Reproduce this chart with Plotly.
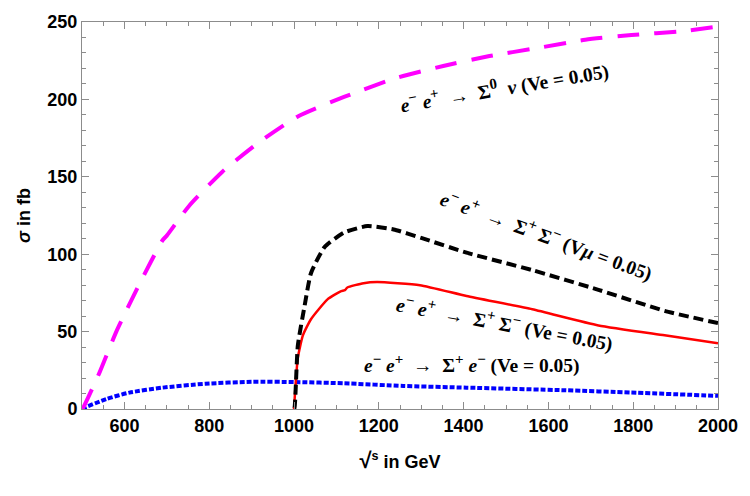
import plotly.graph_objects as go

# sigma(e- e+ -> Sigma0 nu), Ve = 0.05
x_s0 = [500, 503, 542, 581, 636, 690, 700, 752, 830, 916, 1009, 1118, 1243, 1352, 1461, 1570, 1687, 1796, 1913, 2000]
y_s0 = [0, 1, 24, 50, 81, 109, 112, 131, 153, 172, 189, 201.6, 214, 221.6, 228, 233, 238.5, 241.6, 244, 247]

# sigma(e- e+ -> Sigma+ Sigma-), Vmu = 0.05
x_mu = [1000, 1001, 1009, 1025, 1040, 1072, 1118, 1173, 1235, 1300, 1407, 1562, 1718, 1874, 2000]
y_mu = [0, 0, 41, 66.6, 87.7, 104.6, 114, 118.2, 116, 110.5, 101, 89.7, 77, 63.4, 55.5]

# sigma(e- e+ -> Sigma+ Sigma-), Ve = 0.05
x_ve = [1000, 1009, 1021, 1040, 1079, 1110, 1120, 1126, 1164, 1196, 1297, 1407, 1562, 1718, 1874, 2000]
y_ve = [0, 33, 47.6, 58, 70.8, 76, 76.8, 78.5, 81.3, 82, 80, 73, 64.4, 54, 47.6, 42.5]

# sigma(e- e+ -> Sigma+ e-), Ve = 0.05
x_se = [500, 503, 558, 612, 690, 791, 900, 1001, 1118, 1258, 1407, 1640, 1796, 2000]
y_se = [0, 0.5, 6.5, 10.6, 13.8, 16.3, 17.6, 17.4, 16.6, 14.9, 13.8, 12.1, 10.6, 8.5]

x_ticks = [600, 800, 1000, 1200, 1400, 1600, 1800, 2000]
y_ticks = [0, 50, 100, 150, 200, 250]

fig = go.Figure()
fig.add_trace(go.Scatter(x=x_se, y=y_se, mode="lines",
                         line=dict(color="#0000ff", width=4, dash="5px,2px", shape="spline", smoothing=0.6)))
fig.add_trace(go.Scatter(x=x_s0, y=y_s0, mode="lines",
                         line=dict(color="#ff00ff", width=4, dash="22px,15px", shape="spline", smoothing=0.6)))
fig.add_trace(go.Scatter(x=x_ve, y=y_ve, mode="lines",
                         line=dict(color="#ff0000", width=2.5, shape="spline", smoothing=0.5)))
fig.add_trace(go.Scatter(x=x_mu, y=y_mu, mode="lines",
                         line=dict(color="#000000", width=4, dash="10px,5px", shape="spline", smoothing=0.5)))

tick_font = dict(family="Liberation Sans, Arial", size=18, color="black")
lab_font = dict(family="Liberation Serif, Times New Roman, serif", size=19.5, color="black")

S = "<sup><span style='font-size:15px'>%s</span></sup>"
anns = [
    ("<b><i>e</i>" + S % "−" + " <i>e</i>" + S % "+" + "  →  Σ" + S % "0" + "  <i>ν</i> (Ve = 0.05)</b>", 508, 80, -9.5),
    ("<b><i>e</i>" + S % "−" + " <i>e</i>" + S % "+" + "  →  Σ" + S % "+" + " Σ" + S % "−" + " (V<i>μ</i> = 0.05)</b>", 551, 231, 20),
    ("<b><i>e</i>" + S % "−" + " <i>e</i>" + S % "+" + "  →  Σ" + S % "+" + " Σ" + S % "−" + " (Ve = 0.05)</b>", 509, 321, 10.5),
    ("<b><i>e</i>" + S % "−" + " <i>e</i>" + S % "+" + "  →  Σ" + S % "+" + " <i>e</i>" + S % "−" + " (Ve = 0.05)</b>", 476, 363, 0),
]
for text, px, py, ang in anns:
    fig.add_annotation(text=text, xref="paper", yref="paper",
                       x=(px - 82) / (724 - 82), y=(409 - py) / (409 - 14),
                       xanchor="center", yanchor="middle", showarrow=False,
                       textangle=ang, font=lab_font)

axis_common = dict(showgrid=False, zeroline=False, showline=True, linecolor="#8c8c8c", linewidth=1,
                   mirror="ticks", ticks="inside", tickcolor="#8c8c8c", tickwidth=1, ticklen=7,
                   tickfont=tick_font)

fig.update_xaxes(range=[500, 2000], tickvals=x_ticks, ticktext=["<b>%d</b>" % v for v in x_ticks],
                 minor=dict(dtick=50, tick0=500, ticks="inside", ticklen=4, tickcolor="#8c8c8c"),
                 title=dict(text="<b><span style='font-size:22px'>√</span><sup>s</sup> in GeV</b>",
                            font=dict(family="Liberation Sans, Arial", size=18, color="black"), standoff=20),
                 **axis_common)
fig.update_yaxes(range=[0, 250], tickvals=y_ticks, ticktext=["<b>%d</b>" % v for v in y_ticks],
                 minor=dict(dtick=10, tick0=0, ticks="inside", ticklen=4, tickcolor="#8c8c8c"),
                 title=dict(text="<b><i>σ</i> in fb</b>",
                            font=dict(family="Liberation Sans, Arial", size=18, color="black"), standoff=12),
                 **axis_common)

fig.update_layout(width=750, height=496, margin=dict(l=82, r=26, t=14, b=87),
                  plot_bgcolor="white", paper_bgcolor="white", showlegend=False)

fig.write_html("out.html")
